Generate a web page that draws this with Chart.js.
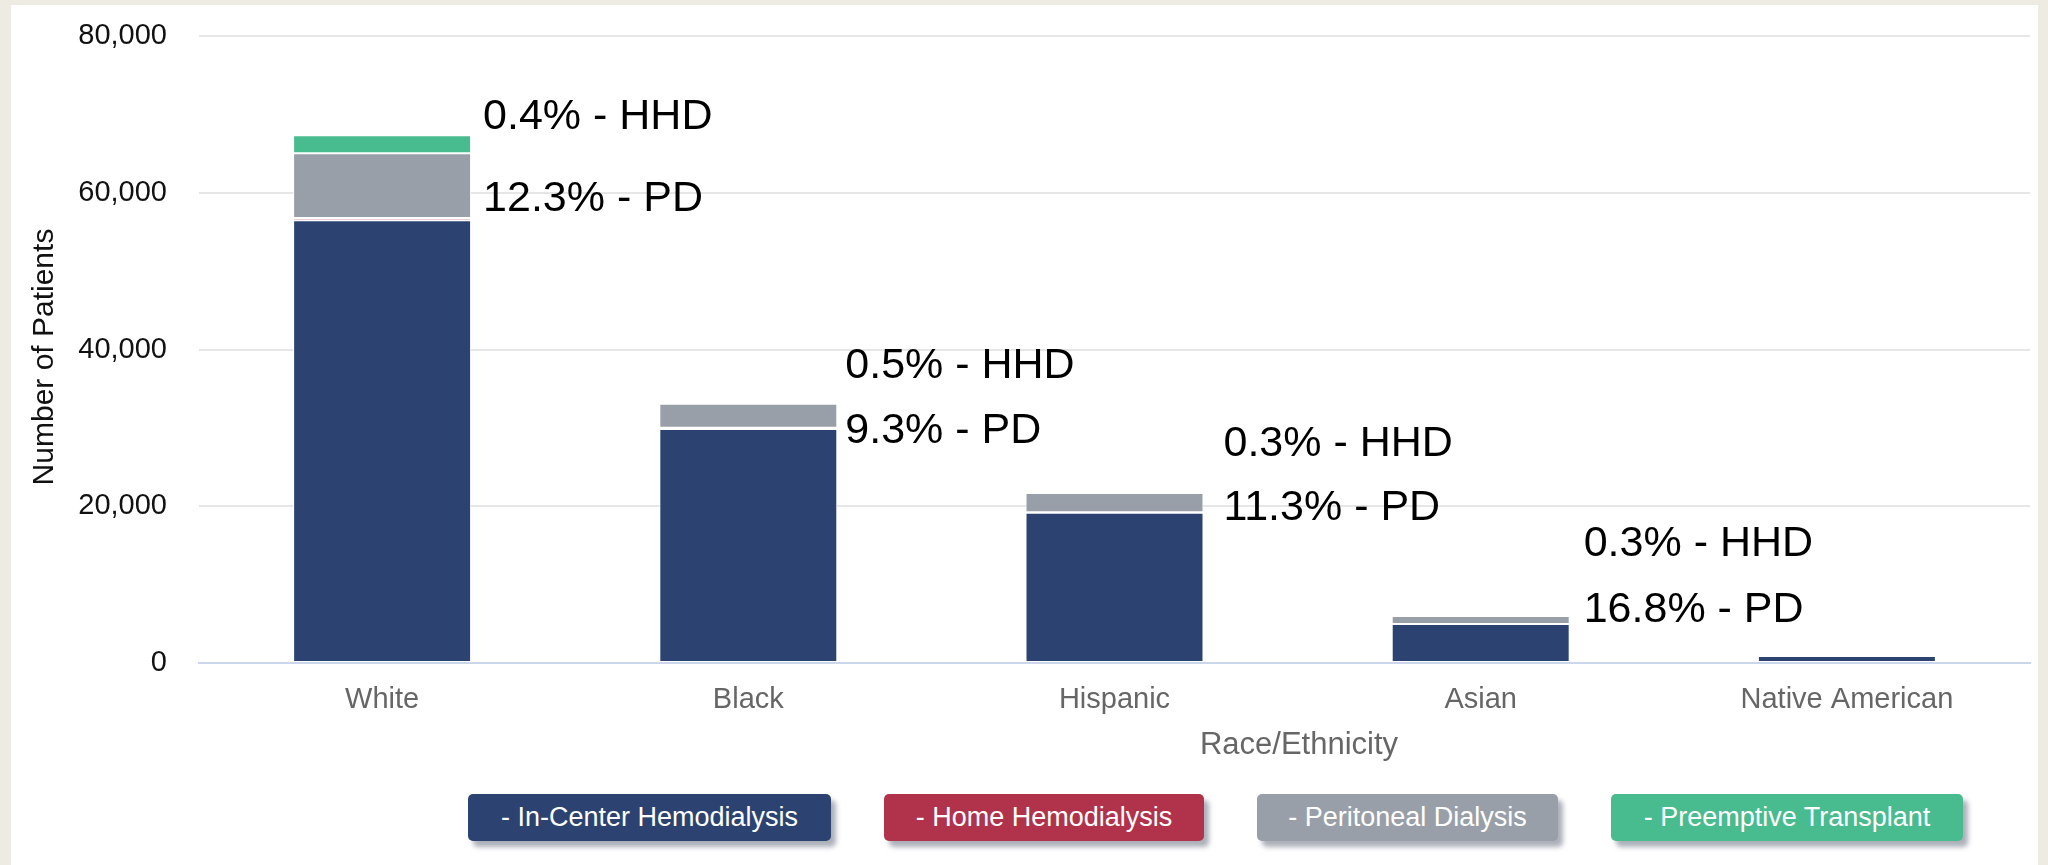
<!DOCTYPE html>
<html>
<head>
<meta charset="utf-8">
<script src="https://cdn.jsdelivr.net/npm/chart.js@4.4.1/dist/chart.umd.min.js"></script>
<style>
  html, body { margin: 0; padding: 0; width: 2048px; height: 865px; overflow: hidden; background: #eeebe3; }
  #panel { position: absolute; left: 11px; top: 5px; width: 2027px; height: 860px; background: #fff; }
  #chart { position: absolute; left: 0; top: 0; }
  #legend { position: absolute; left: 457px; top: 789px; display: flex; gap: 53px; }
  .btn { font: 27px "Liberation Sans", Arial, sans-serif; height: 47px; line-height: 47px; border-radius: 5px;
         color: #fff; text-align: center; white-space: nowrap; box-shadow: 5px 6px 5px rgba(70, 80, 100, 0.45); }
</style>
</head>
<body>
<div id="panel">
  <canvas id="chart" width="2027" height="780"></canvas>
  <div id="legend"></div>
</div>
<script>
const FONT = '"Liberation Sans", Arial, sans-serif';

const categories = ['White', 'Black', 'Hispanic', 'Asian', 'Native American'];
const inCenter = [56500, 29850, 19180, 4970, 880];
const homeHD = [270, 165, 65, 18, 0];
const peritoneal = [8280, 3078, 2451, 1007, 0];
const preemptive = [2300, 0, 0, 0, 0];

const hhdLabels = ['0.4% - HHD', '0.5% - HHD', '0.3% - HHD', '0.3% - HHD', null];
const pdLabels = ['12.3% - PD', '9.3% - PD', '11.3% - PD', '16.8% - PD', null];

// where the text baselines sit, in axis units, and gap right of each bar
const hhdAt = [68100, 36330, 26410, 13650, null];
const pdAt = [57670, 28110, 18210, 5270, null];
const labelGap = [12, 8, 20, 14, 0];

const legendWidths = [363, 320, 301, 352];

const barNotes = {
    id: 'barNotes',
    afterDatasetsDraw(chart) {
        const ctx = chart.ctx;
        const y = chart.scales.y;
        const bars = chart.getDatasetMeta(0).data;
        ctx.save();
        ctx.font = '43px ' + FONT;
        ctx.fillStyle = '#000';
        ctx.textAlign = 'left';
        ctx.textBaseline = 'alphabetic';
        bars.forEach((bar, i) => {
            const x = bar.x + bar.width / 2 + labelGap[i];
            if (hhdLabels[i]) ctx.fillText(hhdLabels[i], x, y.getPixelForValue(hhdAt[i]));
            if (pdLabels[i]) ctx.fillText(pdLabels[i], x, y.getPixelForValue(pdAt[i]));
        });
        // both axis titles sit a little off centre in the original
        ctx.font = '31px ' + FONT;
        ctx.fillStyle = '#666';
        ctx.textAlign = 'center';
        ctx.textBaseline = 'middle';
        ctx.fillText('Race/Ethnicity', 1288, 740);
        ctx.translate(34, 352);
        ctx.rotate(-Math.PI / 2);
        ctx.font = '30px ' + FONT;
        ctx.fillStyle = '#111';
        ctx.fillText('Number of Patients', 0, 0);
        ctx.restore();
    }
};

const chart = new Chart(document.getElementById('chart'), {
    type: 'bar',
    data: {
        labels: categories,
        datasets: [
            { label: 'In-Center Hemodialysis', data: inCenter, backgroundColor: '#2c4371' },
            { label: 'Home Hemodialysis', data: homeHD, backgroundColor: '#b1334b' },
            { label: 'Peritoneal Dialysis', data: peritoneal, backgroundColor: '#989fa8' },
            { label: 'Preemptive Transplant', data: preemptive, backgroundColor: '#48bb8f' }
        ]
    },
    options: {
        responsive: false,
        animation: false,
        datasets: {
            bar: {
                categoryPercentage: 1,
                barPercentage: 0.486,
                borderColor: '#fff',
                borderWidth: 1,
                borderSkipped: false
            }
        },
        layout: { padding: { top: 31, right: 8, left: 0, bottom: 0 } },
        plugins: {
            legend: { display: false },
            tooltip: { enabled: false }
        },
        scales: {
            x: {
                stacked: true,
                grid: { display: false, drawTicks: false, tickLength: 0 },
                border: { color: '#ccd6eb', width: 2 },
                ticks: { color: '#666', font: { size: 29, family: FONT }, padding: 20 },
                afterFit: (s) => { s.height = 122; }
            },
            y: {
                stacked: true,
                min: 0,
                max: 80000,
                ticks: {
                    stepSize: 20000,
                    color: '#111',
                    padding: 32,
                    font: { size: 29, family: FONT },
                    callback: (v) => v.toLocaleString('en-US')
                },
                grid: {
                    color: (c) => c.tick && c.tick.value === 0 ? 'rgba(0,0,0,0)' : '#e6e6e6',
                    lineWidth: 2,
                    drawTicks: false,
                    tickLength: 0
                },
                border: { display: false },
                afterFit: (s) => {
                    s.width = 188;
                    s.paddingTop = 0;
                    s.paddingBottom = 0;
                }
            }
        }
    },
    plugins: [barNotes]
});

// html legend built from the datasets
const legend = document.getElementById('legend');
chart.data.datasets.forEach((ds, i) => {
    const b = document.createElement('div');
    b.className = 'btn';
    b.style.width = legendWidths[i] + 'px';
    b.style.background = ds.backgroundColor;
    b.textContent = '- ' + ds.label;
    legend.appendChild(b);
});
</script>
</body>
</html>
